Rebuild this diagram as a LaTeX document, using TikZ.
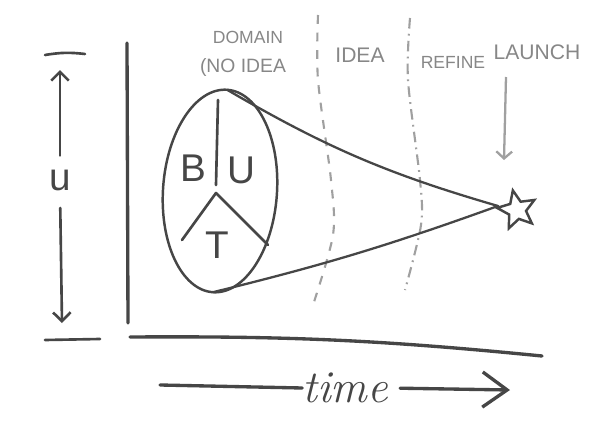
\documentclass[tikz,border=0pt]{standalone}
\usepackage{fontspec}
\newfontfamily\handfont{Liberation Sans}
\usetikzlibrary{shapes.geometric,arrows.meta}

\definecolor{skink}{RGB}{70,70,70}
\definecolor{skpencil}{RGB}{135,135,135}
\definecolor{skdash}{RGB}{160,160,160}

\begin{document}
\begin{tikzpicture}[
  x=0.02cm,
  y=-0.02cm,
  >={Straight Barb[length=5pt,width=10pt]},
  every node/.style={inner sep=0pt, outer sep=0pt},
  skNote/.style={font=\handfont\fontsize{11}{11}\selectfont, text=skpencil},
  skLetter/.style={font=\handfont\fontsize{22}{22}\selectfont, text=skink},
  skInk/.style={draw=skink, line width=1.5pt, line cap=round, line join=round},
  skAxis/.style={draw=skink, line width=1.9pt, line cap=round},
  skCone/.style={draw=skink, line width=1.3pt, line cap=round},
  skDashA/.style={draw=skdash, line width=1.2pt, dash pattern=on 5pt off 5pt},
  skDashB/.style={draw=skdash, line width=1.2pt, dash pattern=on 6pt off 3pt on 1pt off 3pt},
  skDomain/.style={draw=skink, line width=1.4pt, ellipse, minimum width=2.28cm, minimum height=4.06cm, rotate=-4},
  skStar/.style={draw=skink, line width=1.4pt, star, star points=5, star point ratio=2.2, minimum size=0.8cm, rotate=12}
]

  \path[use as bounding box, fill=white] (0,0) rectangle (613,436);

  % phase boundaries
  \draw[skDashA] plot[smooth] coordinates {(318,15) (318,80) (331,180) (333,235) (313,305)};
  \draw[skDashB] plot[smooth] coordinates {(410,18) (408,80) (420,180) (421,225) (405,290)};

  % labels
  \node[skNote, font=\handfont\fontsize{10}{10}\selectfont] (domain label) at (248,37) {DOMAIN};
  \node[skNote] (noidea) at (243,67) {(NO IDEA};
  \node[skNote, font=\handfont\fontsize{12}{12}\selectfont] (idea) at (360,55) {IDEA};
  \node[skNote, font=\handfont\fontsize{10}{10}\selectfont] (refine) at (453,62) {REFINE};
  \node[skNote, font=\handfont\fontsize{12}{12}\selectfont] (launch) at (537,52) {LAUNCH};

  % axes
  \coordinate (yaxtop) at (127,43);
  \coordinate (yaxbot) at (128,323);
  \coordinate (xaxleft) at (130,337);
  \coordinate (xaxright) at (542,356);
  \draw[skAxis] (yaxtop) -- (yaxbot);
  \draw[skAxis] (xaxleft) to[bend left=3] (xaxright);

  % u bracket
  \node[skLetter] (u) at (60,180) {u};
  \coordinate (utop) at (60,70);
  \coordinate (ubot) at (62,323);
  \draw[skInk] (45,55) to[bend left=8] (85,54);
  \draw[skInk] (45,340) -- (100,339);
  \draw[skInk, ->, shorten <=8pt] (u.north) -- (utop);
  \draw[skInk, ->, shorten <=10pt] (u.south) -- (ubot);

  % domain
  \node[skDomain] (domain) at (220,191) {};
  \draw[skInk] (218,100) -- (216,185);
  \draw[skInk] (182,240) -- (216,193) -- (268,245);
  \node[skLetter] (b) at (193,168) {B};
  \node[skLetter] (us) at (241,170) {U};
  \node[skLetter] (t) at (217,245) {T};

  % cone to launch
  \node[skStar] (star) at (517,210) {};
  \coordinate (tip) at (498,206);
  \draw[skCone] (domain.north) to[bend right=7] (tip);
  \draw[skCone] (domain.south) to[bend right=3] (tip);

  \coordinate (launchtail) at (506,77);
  \coordinate (launchtip) at (504,160);
  \draw[draw=skdash, line width=1.3pt, -{Straight Barb[length=4pt,width=9pt]}] (launchtail) -- (launchtip);

  % time
  \node[font=\fontsize{26}{26}\selectfont\itshape, text=skink] (time) at (345,388) {time};
  \coordinate (timeL) at (160,385);
  \coordinate (timeR) at (510,390);
  \draw[skAxis] (timeL) -- (time.west);
  \draw[skAxis, -{Straight Barb[length=14pt,width=20pt]}, shorten <=7pt] (time.east) -- (timeR);

\end{tikzpicture}
\end{document}
